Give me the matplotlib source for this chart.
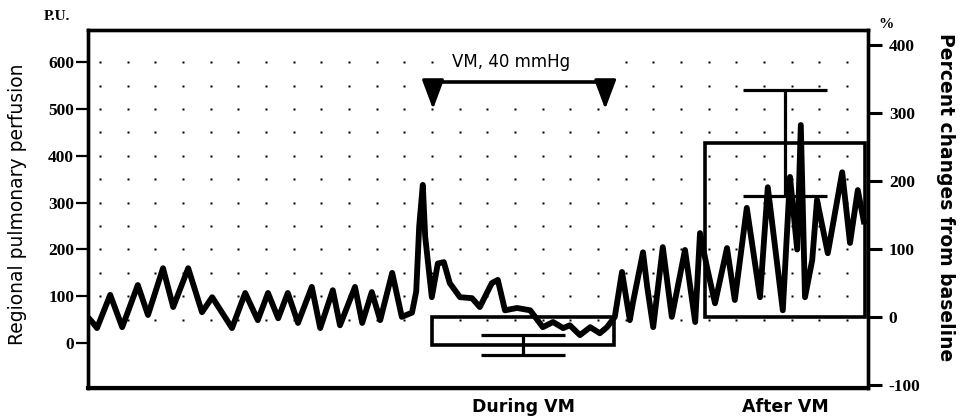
import numpy as np
import matplotlib
matplotlib.use("Agg")
import matplotlib.pyplot as plt

plt.rcParams["axes.unicode_minus"] = False

# perfusion trace: time (s) and regional perfusion (P.U.)
t = [0, 0.7, 1.5, 3.7, 5.7, 8.3, 10.0, 12.5, 14.2, 16.7, 19.0, 20.7, 24.0, 26.2,
     28.3, 30.0, 31.7, 33.3, 35.0, 37.3, 38.7, 40.8, 42.0, 44.5, 45.7, 47.3,
     48.7, 50.7, 52.3, 54.0, 54.7, 55.2, 55.8, 56.2, 57.3, 58.3, 59.3, 60.3,
     62.0, 64.0, 65.3, 67.3, 68.3, 69.5, 71.5, 73.7, 75.8, 77.5, 79.2, 80.3,
     82.0, 83.7, 85.3, 86.5, 87.8, 89.0, 90.3, 90.8, 92.5, 93.2, 94.2, 95.8,
     97.3, 99.5, 101.2, 102.0, 103.2, 104.5, 106.5, 107.8, 109.8, 112.0,
     113.3, 115.8, 117.0, 118.2, 118.8, 119.5, 120.7, 121.5, 123.3, 125.7,
     127.0, 128.3, 129.3]
pu = [55, 45, 32, 103, 34, 124, 60, 160, 77, 160, 66, 98, 32, 107,
      49, 107, 53, 107, 43, 120, 32, 113, 38, 120, 43, 109,
      49, 150, 56, 65, 110, 250, 338, 227, 98, 170, 173, 128,
      98, 96, 77, 128, 135, 70, 75, 70, 34, 45, 32, 38,
      17, 34, 21, 34, 56, 152, 49, 85, 194, 120, 34, 205,
      56, 199, 45, 235, 160, 85, 203, 92, 289, 98,
      333, 70, 355, 200, 466, 98, 177, 306, 192, 365,
      214, 327, 260]

# summary bars, percent change from baseline
bar_labels = ["During VM", "After VM"]
bar_pct = [-41, 256]
bar_err = [15, 78]

vm_text = "VM, 40 mmHg"
vm_start, vm_end = 57.5, 86.2

# layout
bar_center = [72.5, 116.2]
bar_width = [30.3, 26.7]

fig = plt.figure(figsize=(9.6, 4.16), dpi=100)
ax = fig.add_axes([88 / 960, 1 - 388 / 416, 780 / 960, 358 / 416])
ax.set_xlim(0, 130)
ax.set_ylim(-96, 669)
ax2 = ax.twinx()
ax2.set_ylim(-104.4, 422)

# dotted background grid
gx = 2 + 4.611 * np.arange(28)
gy = np.arange(50, 601, 50)
GX, GY = np.meshgrid(gx, gy)
keep = ~((GX > 58) & (GX < 88) & (GY >= 550))
ax.plot(GX[keep], GY[keep], "s", ms=1.9, color="black", mec="none", zorder=1)

# trace
ax.plot(t, pu, color="black", lw=4.2, solid_joinstyle="round", zorder=3)

# VM marker
ax.plot([vm_start, vm_end], [558, 558], color="black", lw=2.6,
        solid_capstyle="butt", zorder=4)
for x in (vm_start, vm_end):
    ax.annotate("", xy=(x, 500), xytext=(x, 560),
                arrowprops=dict(arrowstyle="-|>,head_length=1.2,head_width=0.45",
                                mutation_scale=15, color="black", lw=2.2,
                                shrinkA=0, shrinkB=0))
ax.text((vm_start + vm_end) / 2 - 1.3, 600, vm_text, ha="center", va="center",
        fontsize=12)

# bars on the percent axis
ax2.bar(bar_center, bar_pct, width=bar_width, fill=False, edgecolor="black",
        lw=2.6, zorder=4)
ax2.errorbar(bar_center, bar_pct, yerr=bar_err, fmt="none", ecolor="black",
             elinewidth=2.3, capsize=30, capthick=2.3, zorder=5)

# ticks
ax.set_yticks(range(0, 601, 100))
ax.tick_params(axis="y", length=9, width=1.6, pad=1, labelsize=12.5)
ax2.set_yticks([-100, 0, 100, 200, 300, 400])
ax2.tick_params(axis="y", length=10, width=2.2, pad=5, labelsize=12.5)
for lbl in ax.get_yticklabels() + ax2.get_yticklabels():
    lbl.set_fontfamily("Liberation Serif")
    lbl.set_fontweight("bold")
ax.set_xticks(bar_center, bar_labels, fontsize=12.5, fontweight="bold")
ax.tick_params(axis="x", length=0, pad=7)

for a in (ax, ax2):
    for s in a.spines.values():
        s.set_linewidth(2.4)
ax.spines["bottom"].set_linewidth(3)

fig.text(18 / 960, 1 - 204 / 416, "Regional pulmonary perfusion", rotation=90,
         ha="center", va="center", fontsize=13.5)
fig.text(946 / 960, 1 - 197 / 416, "Percent changes from baseline", rotation=270,
         ha="center", va="center", fontsize=13.5, fontweight="bold")
fig.text(57 / 960, 1 - 17 / 416, "P.U.", ha="center", va="center",
         fontsize=11, fontweight="bold", family="Liberation Serif")
fig.text(886 / 960, 1 - 25 / 416, "%", ha="center", va="center",
         fontsize=11, fontweight="bold", family="Liberation Serif")

fig.savefig("out.png", dpi=100)
